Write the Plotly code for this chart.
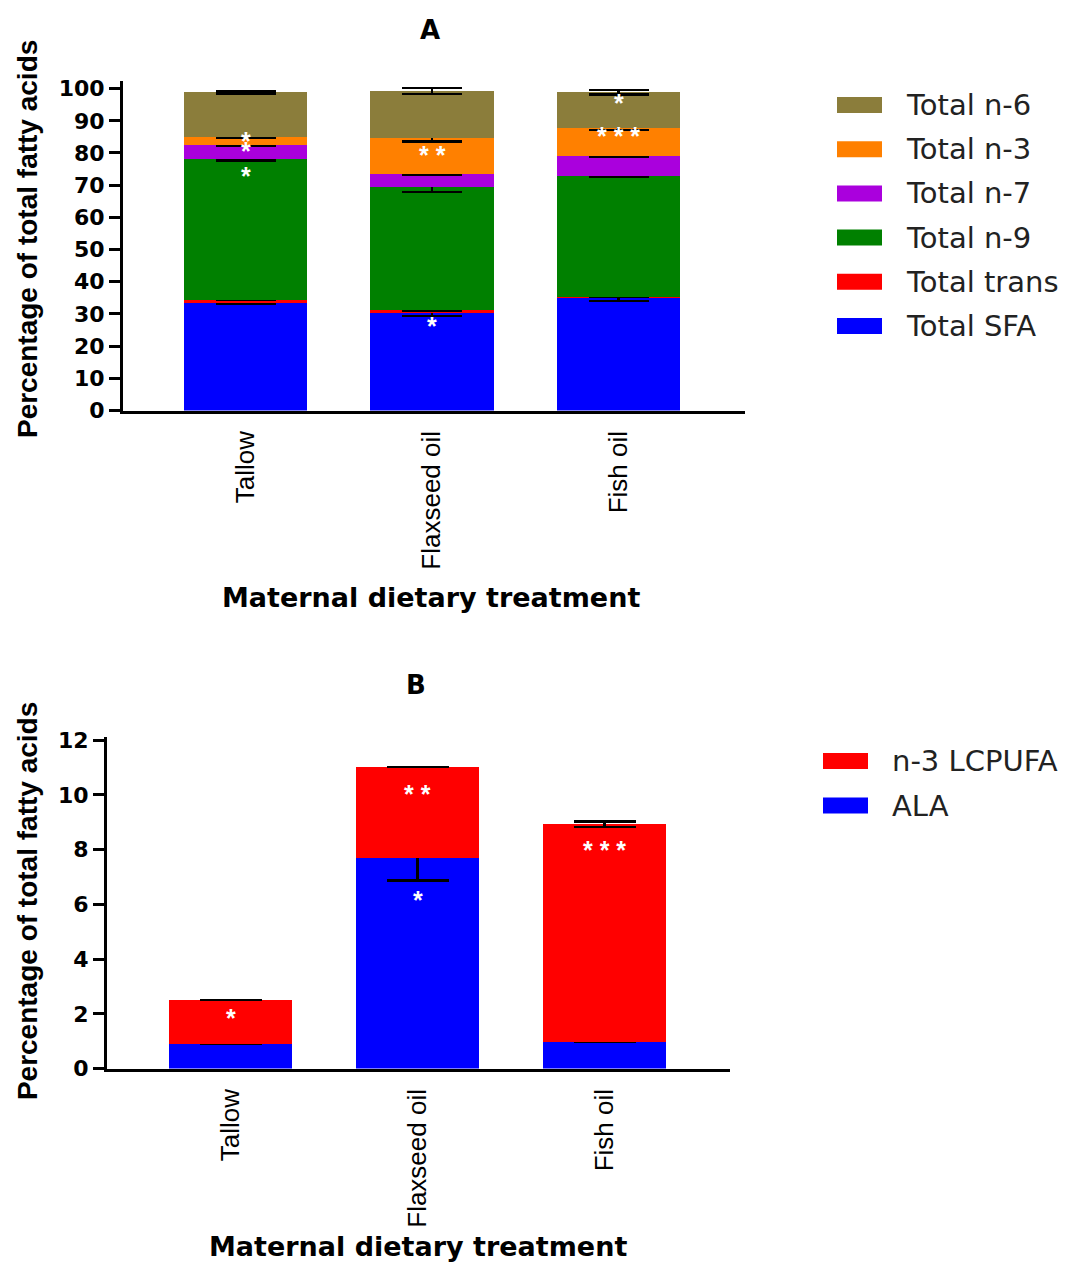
import plotly.graph_objects as go

# ---------------- data ----------------
categories = ["Tallow", "Flaxseed oil", "Fish oil"]

# Panel A: fatty-acid classes (% of total fatty acids)
series_A = ["Total SFA", "Total trans", "Total n-9", "Total n-7", "Total n-3", "Total n-6"]
total_sfa = [33.5, 30.2, 35.0]
total_trans = [0.8, 0.9, 0.4]
total_n9 = [43.7, 38.2, 37.6]
total_n7 = [4.6, 4.2, 6.0]
total_n3 = [2.3, 11.1, 8.7]
total_n6 = [13.9, 14.7, 11.1]

err_sfa = [0.4, 0.8, 0.9]
err_trans = [None, None, None]
err_n9 = [0.3, 1.4, 0.4]
err_n7 = [0.3, 0.2, 0.1]
err_n3 = [0.3, 1.0, 0.6]
err_n6 = [0.3, 0.9, 0.7]

colors_A = ["#0000FF", "#FF0000", "#008000", "#AA00DD", "#FF8000", "#8B7D3B"]

# Panel B: omega-3 fractions
series_B = ["ALA", "n-3 LCPUFA"]
ala = [0.9, 7.68, 0.98]
n3_lcpufa = [1.6, 3.34, 7.94]
err_ala = [None, 0.8, None]
err_lcpufa = [None, None, 0.1]
colors_B = ["#0000FF", "#FF0000"]

yticks_A = [0, 10, 20, 30, 40, 50, 60, 70, 80, 90, 100]
yticks_B = [0, 2, 4, 6, 8, 10, 12]

# significance asterisks: (category index, series index, label, pixel offset below segment top)
stars_A = [(0, 4, "*", -2), (0, 3, "*", 0), (0, 2, "*", 11),
           (1, 4, "* *", 11), (1, 0, "*", 7),
           (2, 5, "*", 5), (2, 4, "* * *", 2)]
stars_B = [(0, 1, "*", 12), (1, 1, "* *", 21), (1, 0, "*", 36), (2, 1, "* * *", 20)]

values_A = [total_sfa, total_trans, total_n9, total_n7, total_n3, total_n6]
errors_A = [err_sfa, err_trans, err_n9, err_n7, err_n3, err_n6]
values_B = [ala, n3_lcpufa]
errors_B = [err_ala, err_lcpufa]

# ---------------- figure ----------------
W, H = 1087, 1264
# the page photo is slightly compressed vertically: compensate target pixel rows
VS, VOFF = 0.9817, 9.5
def py(y_target):
    return 1 - ((y_target - VOFF) / VS) / H

fig = go.Figure()

def add_stack(values, errors, names, colors, xa, ya, capw):
    for v, e, n, c in zip(values, errors, names, colors):
        fig.add_trace(go.Bar(
            x=categories, y=v, name=n, marker=dict(color=c, line=dict(width=0)),
            width=0.66, xaxis=xa, yaxis=ya, showlegend=False,
            error_y=dict(type="data", array=e, visible=True, color="black",
                         thickness=2.5, width=capw),
        ))

add_stack(values_A, errors_A, series_A, colors_A, "x", "y", 30)
add_stack(values_B, errors_B, series_B, colors_B, "x2", "y2", 31)

def cum_tops(values):
    tops, run = [], [0.0] * len(categories)
    for v in values:
        run = [r + vv for r, vv in zip(run, v)]
        tops.append(list(run))
    return tops

ann = []
STAR_FONT = dict(family="Liberation Sans", size=25, color="white")
GLYPH_DROP = 6
for stars, vals, xr, yr in [(stars_A, values_A, "x", "y"), (stars_B, values_B, "x2", "y2")]:
    tops = cum_tops(vals)
    for ci, si, lab, off in stars:
        ann.append(dict(x=categories[ci], y=tops[si][ci], xref=xr, yref=yr, text="<b>%s</b>" % lab,
                        showarrow=False, font=STAR_FONT, yanchor="middle",
                        yshift=-(off + GLYPH_DROP)))

axis_common = dict(showline=True, linewidth=3, linecolor="black", showgrid=False,
                   zeroline=False, mirror=False)
xcommon = dict(axis_common, type="category", tickangle=-90, ticks="outside", ticklen=7,
               tickcolor="rgba(0,0,0,0)",
               tickfont=dict(family="Liberation Sans", size=26, color="black"))
ycommon = dict(axis_common, ticks="outside", ticklen=11, tickwidth=2.5, tickcolor="black",
               tickfont=dict(family="DejaVu Sans", size=22, color="black", weight="bold"))

fig.update_layout(
    width=W, height=H, autosize=False,
    margin=dict(l=0, r=0, t=0, b=0),
    paper_bgcolor="white", plot_bgcolor="white",
    barmode="stack",
    xaxis=dict(xcommon, domain=[123 / W, 745 / W], range=[-0.657, 2.678], anchor="y"),
    yaxis=dict(ycommon, domain=[py(410), py(80.7)], range=[0, 102.3],
               tickvals=yticks_A, anchor="x"),
    xaxis2=dict(xcommon, domain=[107 / W, 730 / W], range=[-0.661, 2.67], anchor="y2"),
    yaxis2=dict(ycommon, domain=[py(1068), py(736.8)], range=[0, 12.1],
                tickvals=yticks_B, anchor="x2"),
)

# panel titles and axis titles
title_font = dict(family="DejaVu Sans", size=26, color="black", weight="bold")
ytitle_font = dict(family="Liberation Sans", size=28, color="black", weight="bold")
xtitle_font = dict(family="DejaVu Sans", size=27, color="black", weight="bold")
for txt, x, y in [("A", 430, 29), ("B", 416, 684)]:
    ann.append(dict(text=txt, x=x / W, y=py(y), xref="paper", yref="paper",
                    showarrow=False, font=title_font, xanchor="center", yanchor="middle"))
for x, y in [(27.5, 239), (27.5, 901)]:
    ann.append(dict(text="Percentage of total fatty acids", x=x / W, y=py(y),
                    xref="paper", yref="paper", showarrow=False, textangle=-90,
                    font=ytitle_font, xanchor="center", yanchor="middle"))
for x, y in [(431, 597), (418, 1246)]:
    ann.append(dict(text="Maternal dietary treatment", x=x / W, y=py(y),
                    xref="paper", yref="paper", showarrow=False,
                    font=xtitle_font, xanchor="center", yanchor="middle"))

# custom legends (large swatches)
shapes = []
legend_font = dict(family="DejaVu Sans", size=29, color="#222222")
def add_legend(names, colors, sx, tx, y0, dy):
    for i, (n, c) in enumerate(zip(names, colors)):
        yc = y0 + i * dy
        shapes.append(dict(type="rect", xref="paper", yref="paper",
                           x0=sx / W, x1=(sx + 45) / W,
                           y0=py(yc + 8), y1=py(yc - 8),
                           fillcolor=c, line=dict(width=0)))
        ann.append(dict(text=n, x=tx / W, y=py(yc), xref="paper", yref="paper",
                        showarrow=False, font=legend_font, xanchor="left", yanchor="middle"))

add_legend(list(reversed(series_A)), list(reversed(colors_A)), 837, 904, 104.5, 44.2)
add_legend(list(reversed(series_B)), list(reversed(colors_B)), 823, 890, 760.5, 44.5)

fig.update_layout(annotations=ann, shapes=shapes)
fig.write_html("out.html")
